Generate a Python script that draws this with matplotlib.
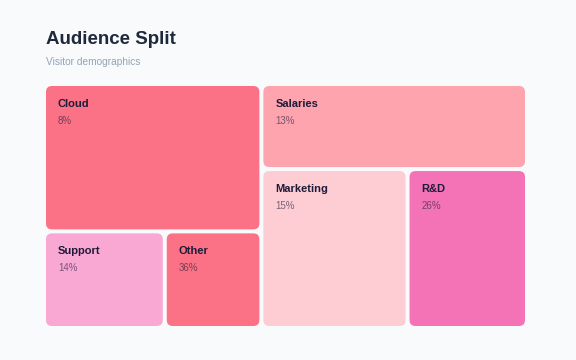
import matplotlib
matplotlib.use('Agg')
import matplotlib.pyplot as plt
from matplotlib.patches import FancyBboxPatch

# Data (tile weights read from the tile areas, labels as printed)
names = ['Cloud', 'Support', 'Other', 'Salaries', 'Marketing', 'R&D']
weights = [30.2, 11.0, 8.8, 21.3, 21.9, 17.9]
shares = ['8%', '14%', '36%', '13%', '15%', '26%']
colors = ['#FB7185', '#F9A8D4', '#FB7185', '#FDA4AF', '#FECDD3', '#F472B6']

plt.rcParams['font.family'] = ['Liberation Sans', 'DejaVu Sans']


def split_layout(idx, x, y, w, h, out, depth=0):
    # recursive binary split, direction alternates with depth
    if len(idx) == 1:
        out[idx[0]] = (x, y, w, h)
        return
    total = sum(weights[i] for i in idx)
    best, acc, cut = None, 0, 1
    for k in range(1, len(idx)):
        acc += weights[idx[k - 1]]
        d = abs(acc - total / 2)
        if best is None or d < best:
            best, cut = d, k
    a, b = idx[:cut], idx[cut:]
    frac = sum(weights[i] for i in a) / total
    if depth % 2 == 0:
        split_layout(a, x, y, w * frac, h, out, depth + 1)
        split_layout(b, x + w * frac, y, w * (1 - frac), h, out, depth + 1)
    else:
        split_layout(a, x, y, w, h * frac, out, depth + 1)
        split_layout(b, x, y + h * frac, w, h * (1 - frac), out, depth + 1)


fig = plt.figure(figsize=(5.76, 3.6), dpi=100)
fig.patch.set_facecolor('#F8FAFC')
ax = fig.add_axes([0, 0, 1, 1])
ax.set_xlim(0, 576)
ax.set_ylim(360, 0)
ax.axis('off')

fig.text(46 / 576, 1 - 39 / 360, 'Audience Split', fontsize=13.5, fontweight='bold',
         color='#1E293B', va='center', ha='left')
fig.text(46 / 576, 1 - 62 / 360, 'Visitor demographics', fontsize=7.3,
         color='#94A3B8', va='center', ha='left')

gap = 4
rects = {}
split_layout(list(range(len(names))), 46 - gap / 2, 86 - gap / 2,
             479 + gap, 240 + gap, rects)

for i, name in enumerate(names):
    x, y, w, h = rects[i]
    x0, y0 = x + gap / 2, y + gap / 2
    w0, h0 = w - gap, h - gap
    ax.add_patch(FancyBboxPatch((x0, y0), w0, h0,
                                boxstyle='round,pad=0,rounding_size=6',
                                facecolor=colors[i], edgecolor='none'))
    ax.text(x0 + 12, y0 + 18, name, fontsize=8, fontweight='bold',
            color='#1E1B3A', va='center', ha='left')
    ax.text(x0 + 12, y0 + 35, shares[i], fontsize=7,
            color='#1E1B3A', alpha=0.6, va='center', ha='left')

fig.savefig('out.png', dpi=100, facecolor=fig.get_facecolor())
